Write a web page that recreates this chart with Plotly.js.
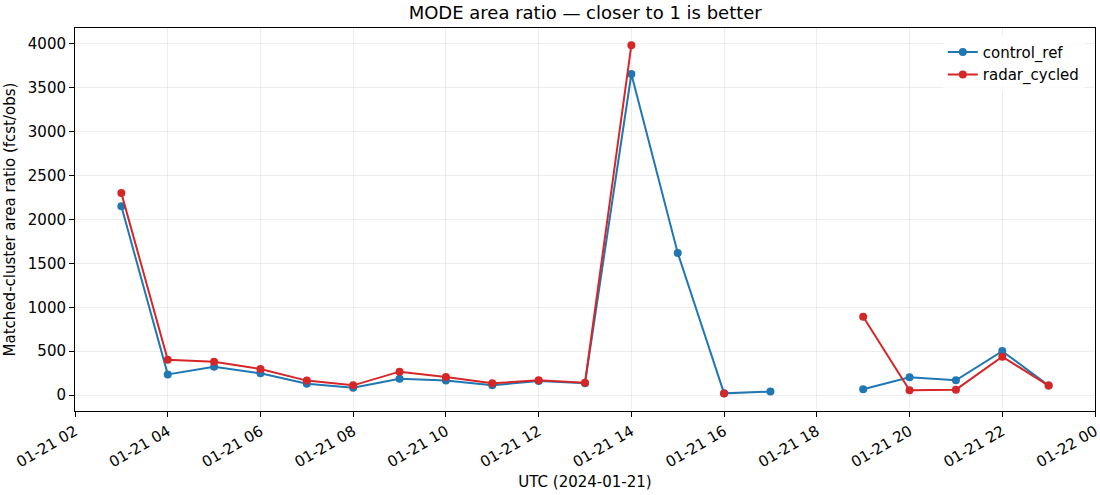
<!DOCTYPE html>
<html>
<head>
<meta charset="utf-8">
<script src="https://cdn.plot.ly/plotly-3.0.1.min.js"></script>
<style>
  html, body { margin: 0; padding: 0; background: #fff; }
  #chart { width: 1100px; height: 495px; }
</style>
</head>
<body>
<div id="chart"></div>
<script>
// hourly valid times, 2024-01-21
const hours = [
    '2024-01-21 03:00', '2024-01-21 04:00', '2024-01-21 05:00', '2024-01-21 06:00',
    '2024-01-21 07:00', '2024-01-21 08:00', '2024-01-21 09:00', '2024-01-21 10:00',
    '2024-01-21 11:00', '2024-01-21 12:00', '2024-01-21 13:00', '2024-01-21 14:00',
    '2024-01-21 15:00', '2024-01-21 16:00', '2024-01-21 17:00', '2024-01-21 18:00',
    '2024-01-21 19:00', '2024-01-21 20:00', '2024-01-21 21:00', '2024-01-21 22:00',
    '2024-01-21 23:00'
];

// null = no matched clusters that hour
const controlRef = [2150, 236, 324, 248, 130, 85, 187, 165, 111, 162, 135, 3656,
    1619, 20, 40, null, 66, 202, 168, 501, 108];
const radarCycled = [2300, 403, 380, 297, 165, 111, 267, 206, 134, 168, 142, 3985,
    null, 17, null, null, 892, 55, 62, 437, 108];

const gridColor = 'rgba(0,0,0,0.07)';

function series(name, values, color) {
    return {
        x: hours,
        y: values,
        type: 'scatter',
        mode: 'lines+markers',
        name: name,
        connectgaps: false,
        line: { color: color, width: 2 },
        marker: { color: color, size: 8 },
    };
}

const traces = [
    series('control_ref', controlRef, '#1f77b4'),
    series('radar_cycled', radarCycled, '#d62728'),
];

const layout = {
    width: 1100,
    height: 495,
    font: { family: 'DejaVu Sans, sans-serif', size: 15, color: '#000' },
    title: {
        text: 'MODE area ratio — closer to 1 is better',
        font: { size: 18 },
        x: 0.532, xanchor: 'center', y: 0.975, yanchor: 'middle',
    },
    xaxis: {
        title: { text: 'UTC (2024-01-21)', font: { size: 15 }, standoff: 6 },
        type: 'date',
        range: ['2024-01-21 02:00', '2024-01-22 00:00'],
        dtick: 2 * 3600 * 1000,
        tick0: '2024-01-21 02:00',
        tickformat: '%m-%d %H',
        tickangle: -30,
        tickfont: { size: 15 },
        ticklabeloverflow: 'allow',
        ticks: 'outside', ticklen: 5, tickcolor: '#000',
        showline: true, linecolor: '#000', linewidth: 1, mirror: true,
        showgrid: true, gridcolor: gridColor,
        zeroline: false,
    },
    yaxis: {
        title: { text: 'Matched-cluster area ratio (fcst/obs)', font: { size: 15 }, standoff: 8 },
        range: [-181, 4180],
        dtick: 500,
        tickfont: { size: 15 },
        ticks: 'outside', ticklen: 5, tickcolor: '#000',
        showline: true, linecolor: '#000', linewidth: 1, mirror: true,
        showgrid: true, gridcolor: gridColor,
        zeroline: false,
    },
    legend: {
        x: 0.99, xanchor: 'right', y: 0.98, yanchor: 'top',
        bgcolor: 'rgba(255,255,255,0.8)',
        font: { size: 15 },
    },
    showlegend: true,
    plot_bgcolor: '#fff',
    paper_bgcolor: '#fff',
    margin: { t: 28, r: 5, b: 84, l: 75 },
};

Plotly.newPlot('chart', traces, layout, { displayModeBar: false });
</script>
</body>
</html>
